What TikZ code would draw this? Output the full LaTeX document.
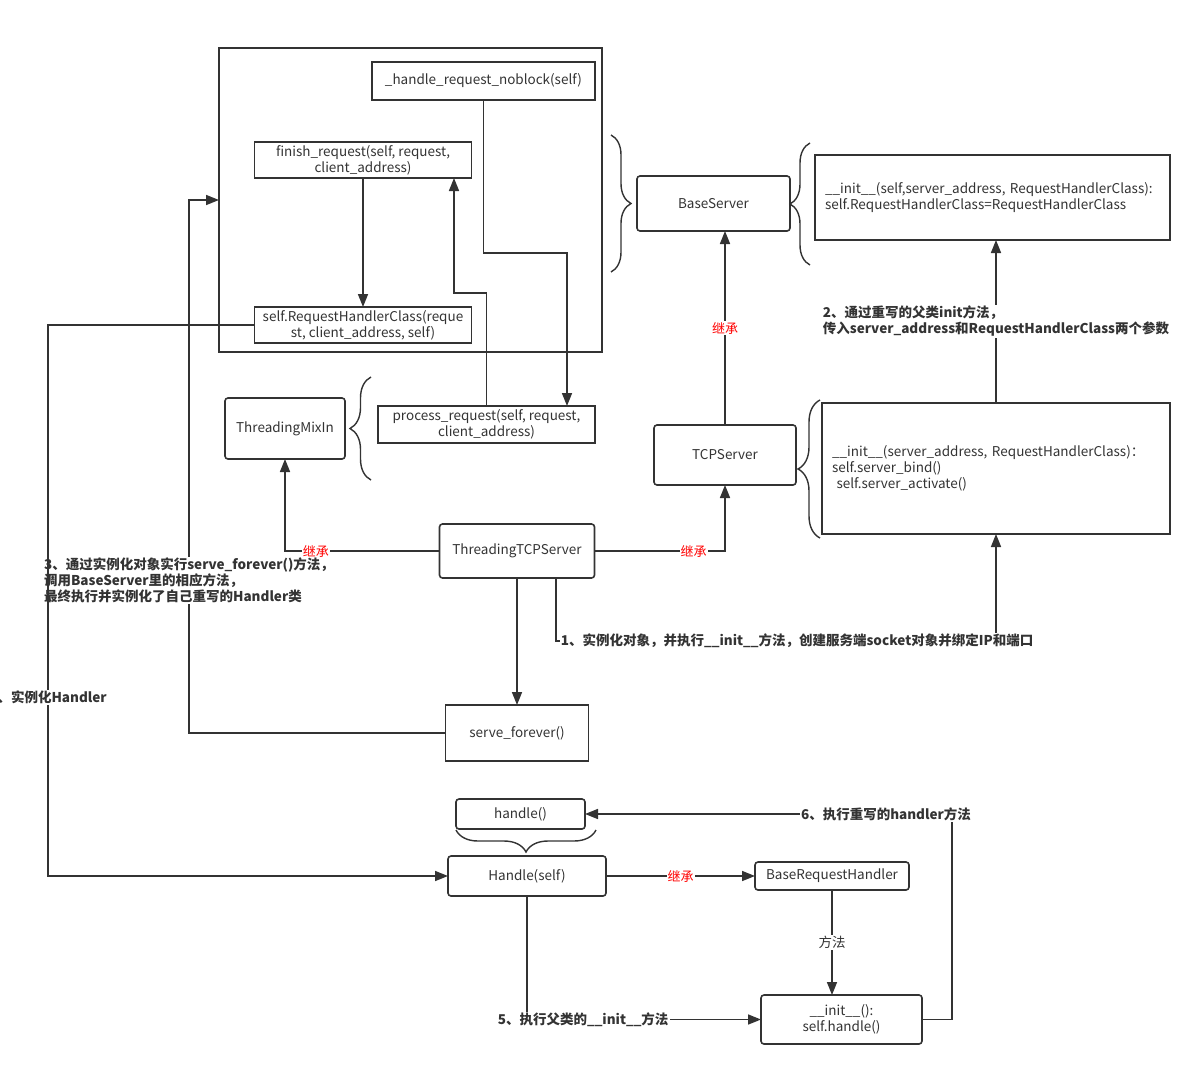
\documentclass[tikz,border=0pt]{standalone}
\usepackage{fontspec}
\setmainfont{Noto Sans CJK SC}
\usetikzlibrary{arrows.meta,decorations.pathreplacing}
\definecolor{linegray}{HTML}{333333}

\begin{document}
\begin{tikzpicture}[x=1pt,y=-1pt,inner sep=0pt,outer sep=0pt,line width=1.6pt,color=linegray,
font=\fontsize{13.5}{16}\selectfont,
sqbox/.style={draw,rectangle,align=center},
rbox/.style={draw,rectangle,rounded corners=3pt,align=center},
arr/.style={-{Triangle[length=13pt,width=10pt]}},
brc/.style={decorate,decoration={brace,amplitude=#1},line width=1.4pt},
note/.style={fill=white,font=\fontsize{13.5}{16}\selectfont\bfseries,align=left,inner sep=1pt},
jicheng/.style={fill=white,text=red,font=\fontsize{13}{14}\selectfont,inner sep=1pt}]

\useasboundingbox (0,0) rectangle (1201,1076);

% server side
\node[sqbox,minimum width=383,minimum height=304] (grp) at (410.5,200) {};
\node[sqbox,minimum width=223,minimum height=38] (noblock) at (483.5,81) {\_handle\_request\_noblock(self)};
\node[sqbox,minimum width=217,minimum height=36] (finish) at (363,160) {finish\_request(self, request,\\client\_address)};
\node[sqbox,minimum width=217,minimum height=36] (rhc) at (363,325) {self.RequestHandlerClass(reque\\st, client\_address, self)};
\node[sqbox,minimum width=217,minimum height=37] (process) at (486.5,424.5) {process\_request(self, request,\\client\_address)};
\node[rbox,minimum width=120,minimum height=61] (mixin) at (285,428.5) {ThreadingMixIn};
\node[rbox,minimum width=155,minimum height=54] (ttcp) at (517,551) {ThreadingTCPServer};
\node[sqbox,minimum width=143,minimum height=56] (serve) at (517,733) {serve\_forever()};
\node[rbox,minimum width=153,minimum height=55] (base) at (713.5,203.5) {BaseServer};
\node[rbox,minimum width=142,minimum height=60] (tcp) at (725,455) {TCPServer};
\node[sqbox,minimum width=355,minimum height=85,text width=335,align=left] (init1) at (992.5,197.5)
  {\_\_init\_\_(self,server\_address, RequestHandlerClass):\\self.RequestHandlerClass=RequestHandlerClass};
\node[sqbox,minimum width=348,minimum height=131,text width=328,align=left] (init2) at (996,468.5)
  {\_\_init\_\_(server\_address, RequestHandlerClass)：\\self.server\_bind()\\\ self.server\_activate()};

% handler side
\node[rbox,minimum width=129,minimum height=30] (hmeth) at (520.5,814) {handle()};
\node[rbox,minimum width=158,minimum height=40] (hcls) at (527,876) {Handle(self)};
\node[rbox,minimum width=154,minimum height=28] (brh) at (832,876) {BaseRequestHandler};
\node[rbox,minimum width=161,minimum height=49] (inith) at (841.5,1019.5) {\_\_init\_\_():\\self.handle()};

% braces
\draw[brc=20pt] (611,135) -- (611,272);
\draw[brc=20pt] (810,265) -- (810,143);
\draw[brc=22pt] (820,538) -- (820,400);
\draw[brc=21pt] (371,480) -- (371,377);
\draw[brc=22pt] (596,830) -- (456,830);

% connectors
\draw[arr] (finish) -- (rhc);
\draw[arr] (noblock.south) |- (567,253) -- ([xshift=80.5pt]process.north);
\draw[arr] (process.north) |- (454,293) -- ([xshift=91pt]finish.south);
\draw[arr] (ttcp.west) -| node[jicheng,pos=0.4] (jc1) {继承} (mixin.south);
\draw[arr] (ttcp.east) -| node[jicheng,pos=0.38] (jc2) {继承} (tcp.south);
\draw[arr] (tcp.north) -- node[jicheng] (jc3) {继承} (tcp.north |- base.south);
\draw[arr] (init2.north) -- node[note] (n2) {2、通过重写的父类init方法，\\传入server\_address和RequestHandlerClass两个参数} (init2.north |- init1.south);
\draw[arr] ([xshift=39pt]ttcp.south) |- node[note,pos=0.774] (n1) {1、实例化对象，并执行\_\_init\_\_方法，创建服务端socket对象并绑定IP和端口} (996,641) -- (init2.south);
\draw[arr] (ttcp) -- (serve);
\draw[arr] (serve.west) -| node[note,pos=0.643] (n3) {3、通过实例化对象实行serve\_forever()方法，\\调用BaseServer里的相应方法，\\最终执行并实例化了自己重写的Handler类} (189,200) -- (grp.west);
\draw[arr] (rhc.west) -| node[note,pos=0.838] (n4) {4、实例化Handler} (48,876) -- (hcls.west);
\draw[arr] (hcls) -- node[jicheng] (jc4) {继承} (brh);
\draw[arr] (brh) -- node[fill=white,inner sep=1pt] (ff) {方法} (brh.south |- inith.north);
\draw[arr] (hcls.south) |- node[note,pos=0.62] (n5) {5、执行父类的\_\_init\_\_方法} (inith.west);
\draw[arr] (inith.east) -| (952,814) -- node[note,pos=0.18] (n6) {6、执行重写的handler方法} (hmeth.east);
\end{tikzpicture}
\end{document}
